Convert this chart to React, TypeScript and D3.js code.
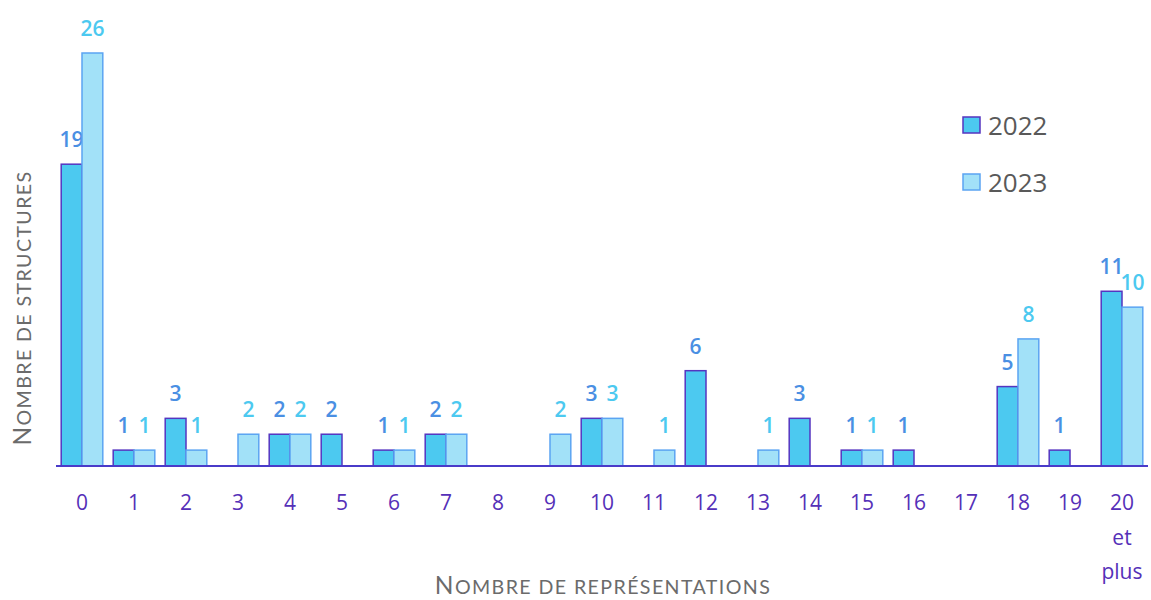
import * as d3 from 'd3';

const categories = ['0', '1', '2', '3', '4', '5', '6', '7', '8', '9', '10', '11', '12', '13', '14', '15', '16', '17', '18', '19', '20'];
const values2022 = [19, 1, 3, 0, 2, 2, 1, 2, 0, 0, 3, 0, 6, 0, 3, 1, 1, 0, 5, 1, 11];
const values2023 = [26, 1, 1, 2, 2, 0, 1, 2, 0, 2, 3, 1, 0, 1, 0, 1, 0, 0, 8, 0, 10];
const seriesNames = ['2022', '2023'];
const xTitle = 'Nombre de représentations';
const yTitle = 'Nombre de structures';

const W = 1151;
const H = 600;
const FONT = '"Open Sans", Lato, sans-serif';
const TITLE_FONT = 'Lato, "Open Sans", sans-serif';

const series = [
  { name: seriesNames[0], values: values2022, fill: '#4CC9F0', stroke: '#5535C0', label: '#4A8FE3' },
  { name: seriesNames[1], values: values2023, fill: '#A2E1F8', stroke: '#5BA4F2', label: '#4CC9F0' },
];

// fake small caps: capitals at full size, the rest upper-cased smaller
function SmallCaps({ text, size }: { text: string; size: number }) {
  const parts: { s: string; big: boolean }[] = [];
  for (const ch of text) {
    const big = ch !== ch.toLowerCase();
    const last = parts[parts.length - 1];
    if (last && last.big === big) last.s += ch;
    else parts.push({ s: ch, big });
  }
  return (
    <>
      {parts.map((p, i) => (
        <tspan key={i} fontSize={p.big ? size : size * 0.8}>{p.s.toUpperCase()}</tspan>
      ))}
    </>
  );
}

export default function App() {
  const margin = { left: 56, right: 3, top: 20, bottom: 134 };
  const baseline = H - margin.bottom;

  const x = d3.scaleBand<string>()
    .domain(categories)
    .range([margin.left, W - margin.right])
    .paddingInner(0.2)
    .paddingOuter(0.1);

  const inner = d3.scaleBand<string>()
    .domain(seriesNames)
    .range([0, x.bandwidth()]);

  const y = d3.scaleLinear().domain([0, 26]).range([baseline, baseline - 413]);

  return (
    <svg width={W} height={H} style={{ position: 'absolute', left: 0, top: 0, background: '#fff' }} fontFamily={FONT}>
      {series.map(s => (
        <g key={s.name}>
          {categories.map((c, i) => {
            const v = s.values[i];
            if (!v) return null;
            const bx = (x(c) ?? 0) + (inner(s.name) ?? 0);
            const bw = inner.bandwidth();
            return (
              <g key={c}>
                <rect x={bx} y={y(v)} width={bw} height={baseline - y(v)}
                  fill={s.fill} stroke={s.stroke} strokeWidth={1.5} />
                <text x={bx + bw / 2} y={y(v) - 17} textAnchor="middle" fontSize={21}
                  fontWeight={600} fill={s.label}>{v}</text>
              </g>
            );
          })}
        </g>
      ))}

      <line x1={margin.left} x2={W - margin.right} y1={baseline} y2={baseline} stroke="#4A3BC9" strokeWidth={2} />

      {categories.map(c => {
        const cx = (x(c) ?? 0) + x.bandwidth() / 2;
        return (
          <g key={c} fill="#5530B8" fontSize={21} textAnchor="middle">
            <text x={cx} y={510}>{c}</text>
            {c === '20' && (
              <>
                <text x={cx} y={545}>et</text>
                <text x={cx} y={579}>plus</text>
              </>
            )}
          </g>
        );
      })}

      <text x={603} y={594} textAnchor="middle" fill="#6B6B6B" fontFamily={TITLE_FONT} letterSpacing={1.4}>
        <SmallCaps text={xTitle} size={24.5} />
      </text>

      <text transform={`translate(31,308) rotate(-90)`} textAnchor="middle" fill="#6B6B6B" fontFamily={TITLE_FONT}
        letterSpacing={1.4}>
        <SmallCaps text={yTitle} size={24.5} />
      </text>

      {series.map((s, i) => (
        <g key={s.name} transform={`translate(963,${117 + i * 57})`}>
          <rect x={0} y={0} width={17} height={16} fill={s.fill} stroke={s.stroke} strokeWidth={1.5} />
          <text x={25} y={18} fontSize={26} fill="#595959">{s.name}</text>
        </g>
      ))}
    </svg>
  );
}
